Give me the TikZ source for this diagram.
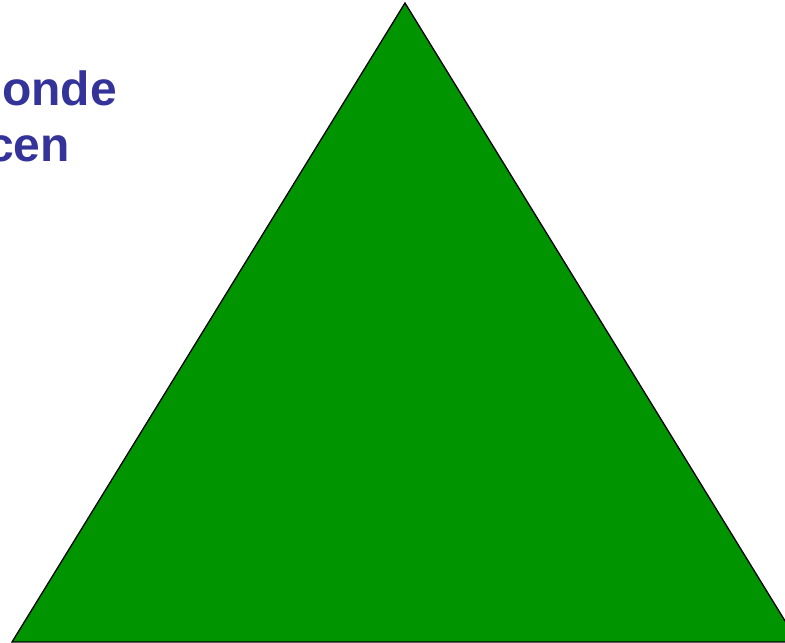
\documentclass[tikz,border=0pt]{standalone}
\usepackage{fontspec}
\setmainfont{Liberation Sans}
\definecolor{trigreen}{RGB}{0,148,0}
\definecolor{textblue}{RGB}{51,51,153}
\begin{document}
\begin{tikzpicture}[x=1pt,y=1pt,
  lbl/.style={text=textblue,font=\fontsize{48}{54}\selectfont\bfseries,inner sep=0pt,anchor=base east}]
\useasboundingbox (0,0) rectangle (785,643);
\clip (0,0) rectangle (785,643);
\coordinate (apex) at (405,640);
\coordinate (bl) at (12,1);
\coordinate (br) at (798,1);
\filldraw[fill=trigreen,draw=black,line width=1.3pt,line join=miter] (apex) -- (bl) -- (br) -- cycle;
\node[lbl] (t1) at (117,537) {onde};
\node[lbl] (t2) at (70,481) {cen};
\end{tikzpicture}
\end{document}
